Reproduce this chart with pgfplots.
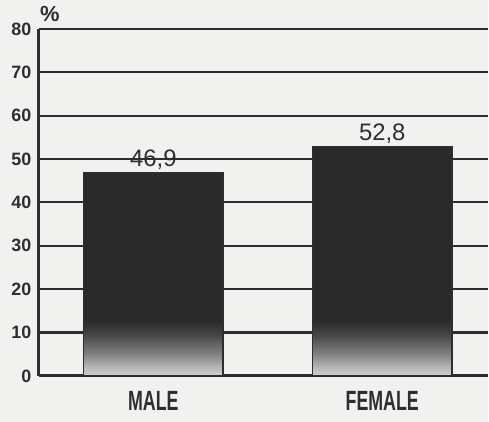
\documentclass[border=0pt]{standalone}
\usepackage{pgfplots}
\pgfplotsset{compat=1.18}
\usepackage{fontspec}
\setmainfont{Liberation Sans}
\usepackage{graphicx}
\definecolor{bgc}{HTML}{F1F1EF}
\definecolor{ink}{HTML}{2E2E2E}
\definecolor{barc}{HTML}{2A2A2A}
\definecolor{lt1}{HTML}{D0D0D0}
\definecolor{lt2}{HTML}{B5B5B5}
\definecolor{md1}{HTML}{7E7E7E}
\definecolor{md2}{HTML}{464646}
\pgfdeclareverticalshading{barshade}{100bp}{color(0bp)=(lt1); color(25bp)=(lt1); color(27bp)=(lt2); color(30bp)=(md1); color(34bp)=(md2); color(37bp)=(barc); color(100bp)=(barc)}
\begin{document}
\begin{tikzpicture}
\fill[bgc] (-39bp,-46bp) rectangle (450bp,377bp);
\begin{axis}[
  at={(0,0)}, anchor=south west,
  scale only axis, width=450bp, height=348bp,
  xmin=-0.5, xmax=1.46, ymin=0, ymax=80,
  axis lines*=left,
  axis line style={ink, line width=3bp},
  xtick={0,1},
  ytick={0,10,...,80},
  ymajorgrids, grid style={ink, line width=2.2bp},
  ytick style={draw=none},
  xtick style={draw=none},
  /pgf/number format/assume math mode=true,
  yticklabel style={font=\bfseries\fontsize{18}{18}\selectfont, text=ink, xshift=-4bp},
  xticklabel style={font=\bfseries\fontsize{28}{28}\selectfont, text=ink, anchor=base, yshift=-35bp},
  xticklabels={\scalebox{0.64}[1]{MALE},\scalebox{0.64}[1]{FEMALE}},
  clip=false,
]
\addplot[ybar, bar width=140bp, draw=ink, line width=1.8bp, shading=barshade,
  nodes near coords={\pgfmathprintnumber[fixed, fixed zerofill, precision=1, use comma]{\pgfplotspointmeta}},
  every node near coord/.append style={font=\fontsize{24}{24}\selectfont, text=ink, anchor=south, inner sep=2bp},
] coordinates {(0,46.9) (1,52.8)};
\node[anchor=base west, inner sep=0pt, font=\bfseries\fontsize{22}{22}\selectfont, text=ink] at ([xshift=1bp, yshift=7bp]rel axis cs:0,1) {\%};
\end{axis}
\end{tikzpicture}
\end{document}
